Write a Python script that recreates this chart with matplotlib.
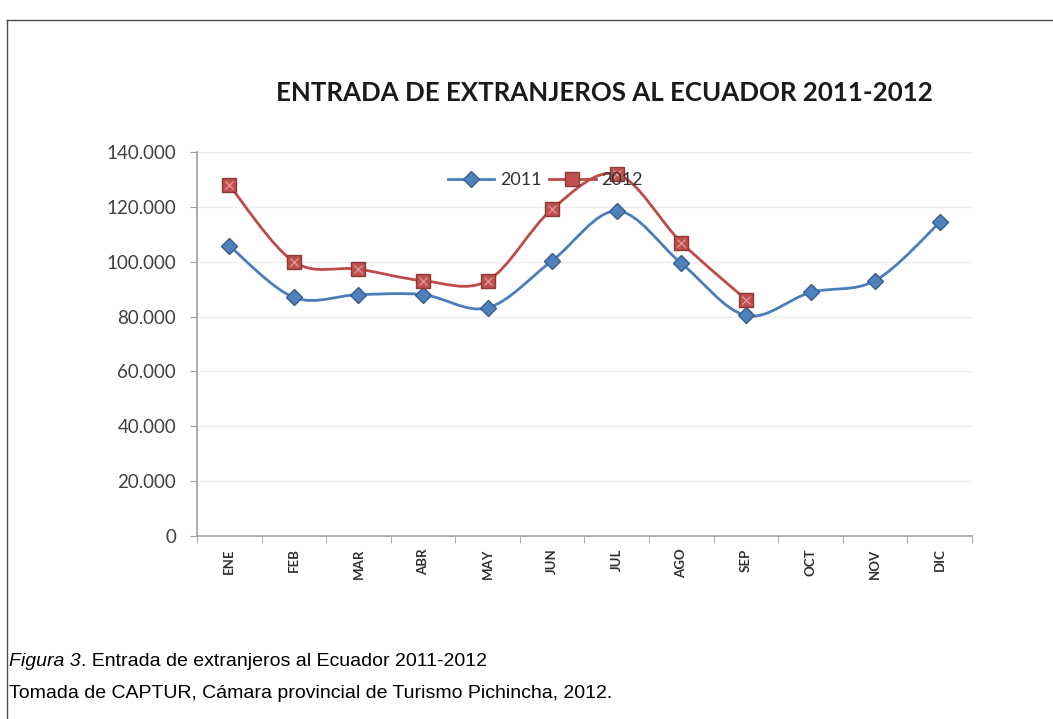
import numpy as np
import matplotlib
matplotlib.use("Agg")
import matplotlib.pyplot as plt
from matplotlib.path import Path
from matplotlib.patches import PathPatch
from matplotlib.lines import Line2D

# 1) Data
# ===================================================================
months = ["ENE", "FEB", "MAR", "ABR", "MAY", "JUN",
          "JUL", "AGO", "SEP", "OCT", "NOV", "DIC"]
visitors_2011 = [105800, 87000, 88000, 88000, 83200, 100400,
                 118500, 99400, 80400, 88800, 93100, 114300]
visitors_2012 = [127900, 100000, 97300, 93100, 93100, 119200,
                 131900, 107000, 86200]
yticks = [0, 20000, 40000, 60000, 80000, 100000, 120000, 140000]
ytick_labels = ["0", "20.000", "40.000", "60.000", "80.000",
                "100.000", "120.000", "140.000"]

title = "ENTRADA DE EXTRANJEROS AL ECUADOR 2011-2012"
caption_italic = "Figura 3"
caption_rest = ". Entrada de extranjeros al Ecuador 2011-2012"
source = "Tomada de CAPTUR, Cámara provincial de Turismo Pichincha, 2012."

blue_line, blue_face, blue_edge = "#4A7EBB", "#4F81BD", "#385D8A"
red_line, red_face, red_edge = "#BE4B48", "#C0504D", "#8C3836"

W, H = 1053, 719


# 2) Helpers
# ===================================================================
def smooth_path(xs, ys):
    # Excel-like smoothed line: Catmull-Rom segments as cubic Beziers
    pts = np.column_stack([xs, ys]).astype(float)
    verts = [pts[0]]
    codes = [Path.MOVETO]
    n = len(pts)
    for i in range(n - 1):
        p0 = pts[i - 1] if i > 0 else pts[i]
        p1 = pts[i]
        p2 = pts[i + 1]
        p3 = pts[i + 2] if i + 2 < n else pts[i + 1]
        c1 = p1 + (p2 - p0) / 6.0
        c2 = p2 - (p3 - p1) / 6.0
        verts += [c1, c2, p2]
        codes += [Path.CURVE4] * 3
    return Path(verts, codes)


# 3) Plot
# ===================================================================
plt.rcParams["font.family"] = ["Lato", "DejaVu Sans"]

fig = plt.figure(figsize=(W / 100, H / 100), dpi=100)
ax = fig.add_axes([197 / W, 1 - 536 / H, 775 / W, 384 / H])

series = [
    (visitors_2011, "2011", blue_line, blue_face, blue_edge, "D", 8.5),
    (visitors_2012, "2012", red_line, red_face, red_edge, "s", 9.5),
]
handles = []
for vals, label, lc, fc, ec, mk, ms in series:
    xs = np.arange(len(vals))
    ax.add_patch(PathPatch(smooth_path(xs, vals), facecolor="none",
                           edgecolor=lc, lw=2.0, zorder=3,
                           capstyle="round", joinstyle="round"))
    ax.plot(xs, vals, ls="none", marker=mk, ms=ms, mfc=fc, mec=ec,
            mew=1.0, zorder=4)
    if mk == "s":
        ax.plot(xs, vals, ls="none", marker="x", ms=ms * 0.6,
                mec="#E8A0A0", mew=0.8, zorder=5)
    handles.append(Line2D([0], [0], color=lc, lw=2.0, marker=mk, ms=ms,
                          mfc=fc, mec=ec, label=label))

ax.set_xlim(-0.5, len(months) - 0.5)
ax.set_ylim(0, 140000)

ax.set_yticks(yticks)
ax.set_yticklabels(ytick_labels, fontsize=13.5, color="#404040")
ax.set_xticks(np.arange(len(months)))
ax.set_xticklabels(months, rotation=90, fontsize=9.5, fontweight="bold",
                   color="#303030")
ax.set_xticks(np.arange(len(months) + 1) - 0.5, minor=True)
ax.tick_params(axis="x", which="major", length=0, pad=9)
ax.tick_params(axis="x", which="minor", length=5, color="#A0A0A0",
               direction="out")
ax.tick_params(axis="y", length=5, color="#A0A0A0", pad=10)

ax.grid(axis="y", color="#EDEDED", lw=1.0)
ax.set_axisbelow(True)
for s in ["top", "right"]:
    ax.spines[s].set_visible(False)
for s in ["left", "bottom"]:
    ax.spines[s].set_color("#A0A0A0")
    ax.spines[s].set_linewidth(1.2)

fig.legend(handles=handles, loc="center", ncol=2, frameon=False,
           bbox_to_anchor=(545 / W, 1 - 180 / H), fontsize=13,
           handlelength=2.6, columnspacing=0.4, handletextpad=0.3,
           labelcolor="#303030")

# title, sized so it spans about the same width as in the source chart
ttl = fig.text(604 / W, 1 - 101 / H, title, ha="center", va="baseline",
               fontsize=16, fontweight="bold", color="#1A1A1A")
fig.canvas.draw()
tw = ttl.get_window_extent().width
ttl.set_fontsize(16 * 658 / tw)

# caption below the chart
cap = fig.text(9 / W, 1 - 662 / H, caption_italic, ha="left",
               va="center", fontsize=14, style="italic",
               family=["Liberation Sans"])
fig.canvas.draw()
bb = cap.get_window_extent()
fig.text(bb.x1 / W, 1 - 662 / H, caption_rest, ha="left",
         va="center", fontsize=14, family=["Liberation Sans"])
fig.text(9 / W, 1 - 694 / H, source, ha="left", va="center",
         fontsize=14, family=["Liberation Sans"])

# document frame (left and top edges)
fig.add_artist(Line2D([7 / W, 7 / W], [0, 1 - 20 / H],
                      color="#505050", lw=1.0))
fig.add_artist(Line2D([7 / W, 1], [1 - 20 / H, 1 - 20 / H],
                      color="#505050", lw=1.0))

fig.savefig("out.png", dpi=100)
